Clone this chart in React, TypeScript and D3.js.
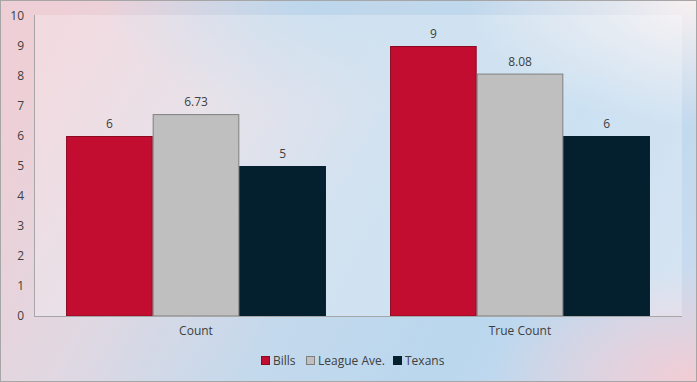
import React from "react";
import * as d3 from "d3";

const categories = ["Count", "True Count"];
const seriesNames = ["Bills", "League Ave.", "Texans"];
const bills = [6, 9];
const leagueAve = [6.73, 8.08];
const texans = [5, 6];
const valueLabels = [["6", "9"], ["6.73", "8.08"], ["5", "6"]];
const yTicks = [0, 1, 2, 3, 4, 5, 6, 7, 8, 9, 10];

const W = 697, H = 382;
const M = { left: 34, top: 16, right: 682, bottom: 316 };
const colors = ["#c30d30", "#bfbfbf", "#04202f"];
const strokes = ["#8a0a22", "#7f7f7f", "#04202f"];
const FONT = "'Open Sans', 'Liberation Sans', sans-serif";

export default function App() {
  const series = [bills, leagueAve, texans];
  const x0 = d3.scaleBand().domain(categories).range([M.left, M.right]).paddingInner(0).paddingOuter(0);
  const x1 = d3.scaleBand().domain(seriesNames).range([0, x0.bandwidth()]).paddingOuter(0.37).paddingInner(0);
  const y = d3.scaleLinear().domain([0, 10]).range([M.bottom, M.top]);

  const legendItems = [
    { name: "Bills", sx: 261, tx: 273 },
    { name: "League Ave.", sx: 306, tx: 318 },
    { name: "Texans", sx: 393, tx: 405 },
  ];

  return (
    <svg width={W} height={H} style={{ position: "absolute", left: 0, top: 0, display: "block" }} fontFamily={FONT}>
      <defs>
        <linearGradient id="bg" x1="0" y1="0.35" x2="1" y2="0.65">
          <stop offset="0" stopColor="#eecfd6" />
          <stop offset="0.25" stopColor="#e0d8e2" />
          <stop offset="0.5" stopColor="#c4d9ec" />
          <stop offset="0.75" stopColor="#bad7ee" />
          <stop offset="1" stopColor="#c8dbee" />
        </linearGradient>
        <radialGradient id="br" cx="1" cy="1" r="0.3">
          <stop offset="0" stopColor="#f3ccd4" stopOpacity="1" />
          <stop offset="1" stopColor="#f3ccd4" stopOpacity="0" />
        </radialGradient>
        <radialGradient id="tr" cx="1" cy="0" r="0.33">
          <stop offset="0" stopColor="#f8f0f0" stopOpacity="1" />
          <stop offset="1" stopColor="#f8f0f0" stopOpacity="0" />
        </radialGradient>
        <radialGradient id="tc" cx="0.45" cy="0" r="0.3">
          <stop offset="0" stopColor="#b4d6ee" stopOpacity="0.8" />
          <stop offset="1" stopColor="#b4d6ee" stopOpacity="0" />
        </radialGradient>
      </defs>
      <rect x={0} y={0} width={W} height={H} fill="url(#bg)" />
      <rect x={0} y={0} width={W} height={H} fill="url(#tc)" />
      <rect x={0} y={0} width={W} height={H} fill="url(#tr)" />
      <rect x={0} y={0} width={W} height={H} fill="url(#br)" />
      <rect x={0.5} y={0.5} width={W - 1} height={H - 1} fill="none" stroke="#a6a6a6" strokeWidth={1} />
      {/* plot area */}
      <rect x={M.left} y={M.top - 1} width={M.right - M.left} height={M.bottom - M.top + 1} fill="#ffffff" fillOpacity={0.25} />
      {/* bars */}
      {series.map((vals, si) =>
        categories.map((c, ci) => {
          const bx = (x0(c) as number) + (x1(seriesNames[si]) as number);
          const bw = x1.bandwidth();
          const by = y(vals[ci]);
          return (
            <g key={`${si}-${ci}`}>
              <rect x={bx + 0.5} y={by + 0.5} width={bw - 1} height={M.bottom - by - 0.5} fill={colors[si]} stroke={strokes[si]} strokeWidth={1} />
              <text x={bx + bw / 2} y={by - 8} textAnchor="middle" fontSize={12} fill="#404040">{valueLabels[si][ci]}</text>
            </g>
          );
        })
      )}
      {/* axes */}
      <line x1={M.left + 0.5} x2={M.left + 0.5} y1={M.top - 1} y2={M.bottom} stroke="#a6a6a6" />
      <line x1={M.left} x2={M.right} y1={M.bottom + 0.5} y2={M.bottom + 0.5} stroke="#a6a6a6" />
      {yTicks.map((t) => (
        <text key={t} x={24} y={y(t) + 4} textAnchor="end" fontSize={12} fill="#404040">{t}</text>
      ))}
      {categories.map((c) => (
        <text key={c} x={(x0(c) as number) + x0.bandwidth() / 2} y={335} textAnchor="middle" fontSize={12} fill="#404040">{c}</text>
      ))}
      {/* legend */}
      {legendItems.map((it, i) => (
        <g key={it.name}>
          <rect x={it.sx + 0.5} y={356.5} width={8} height={8} fill={colors[i]} stroke={strokes[i]} />
          <text x={it.tx} y={365} fontSize={12} fill="#404040">{it.name}</text>
        </g>
      ))}
    </svg>
  );
}
